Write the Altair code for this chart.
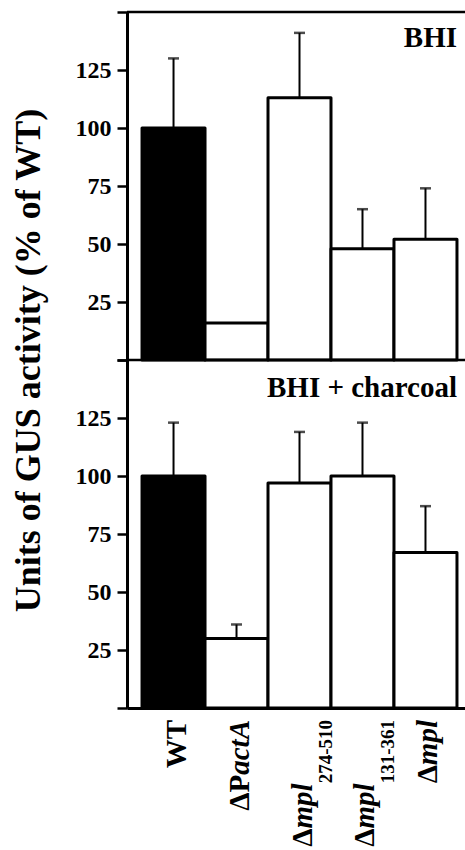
import altair as alt
import pandas as pd

# ---- data ----
strains = ["WT", "ΔPactA", "Δmpl274-510", "Δmpl131-361", "Δmpl"]
label_upright = ["WT", "ΔP", "Δ", "Δ", "Δ"]
label_italic = ["", "actA", "mpl", "mpl", "mpl"]
label_sub = ["", "", "274-510", "131-361", ""]

bhi_mean = [100, 16, 113, 48, 52]
bhi_sd = [30, 0, 28, 17, 22]
charcoal_mean = [100, 30, 97, 100, 67]
charcoal_sd = [23, 6, 22, 23, 20]

y_ticks = [0, 25, 50, 75, 100, 125, 150]
panel_titles = ["BHI", "BHI + charcoal"]
y_title = "Units of GUS activity (% of WT)"

df = pd.DataFrame({
    "strain": strains,
    "upright": label_upright,
    "italic": label_italic,
    "sub": label_sub,
    "bhi_mean": bhi_mean,
    "bhi_sd": bhi_sd,
    "ch_mean": charcoal_mean,
    "ch_sd": charcoal_sd,
})

# ---- layout / style ----
FONT = "Liberation Serif"
W, H = 338, 696
MAIN_SIZE, SUB_SIZE = 29, 19

# approximate advance widths (em) for Liberation Serif Bold / Bold Italic
ADV = {"W": 1.0, "T": 0.667, "P": 0.611, "Δ": 0.667, "A": 0.667,
       "a": 0.5, "c": 0.444, "t": 0.278, "m": 0.778, "p": 0.5, "l": 0.278,
       "-": 0.333}


def text_w(s, size):
    return sum(ADV.get(ch, 0.5) for ch in s) * size


X = alt.X("strain:N", sort=strains,
          scale=alt.Scale(paddingInner=0, paddingOuter=0.183, align=0.652),
          axis=alt.Axis(title=None, labels=False, ticks=False, domain=True,
                        domainColor="black", domainWidth=3))


def y_axis(title):
    kw = dict(orient="left", values=y_ticks,
              labelExpr="datum.value == 0 || datum.value == 150 ? '' : datum.label",
              tickSize=10, tickWidth=2.5, tickColor="black",
              domainColor="black", domainWidth=3,
              labelFont=FONT, labelFontSize=24, labelFontWeight="bold",
              labelColor="black", labelPadding=6, grid=False)
    if title:
        kw.update(title=title, titleFont=FONT, titleFontSize=36,
                  titleFontWeight="bold", titleColor="black",
                  titleAngle=270, titleAlign="center",
                  titleBaseline="alphabetic", titleX=-88, titleY=H / 2)
    else:
        kw.update(title=None)
    return alt.Axis(**kw)


def panel(mean_col, sd_col, domain, title_text, title_y, axis, extra_rules):
    base = alt.Chart(df)
    ysc = alt.Scale(domain=domain, nice=False, zero=False)
    bars = base.mark_bar(stroke="black", strokeWidth=3, strokeJoin="round").encode(
        x=X,
        y=alt.Y(f"{mean_col}:Q", scale=ysc, axis=axis),
        y2=alt.datum(0),
        fill=alt.condition(alt.datum.strain == "WT", alt.value("black"), alt.value("white")),
    )
    err_base = base.transform_filter(f"datum.{sd_col} > 0").transform_calculate(
        top=f"datum.{mean_col} + datum.{sd_col}")
    whisk = err_base.mark_rule(color="black", strokeWidth=2).encode(
        x=X, y=alt.Y(f"{mean_col}:Q", axis=axis), y2="top:Q")
    cap = err_base.mark_tick(color="black", thickness=2.5, size=11).encode(
        x=X, y=alt.Y("top:Q", axis=axis))
    one = alt.Chart(pd.DataFrame({"t": [title_text]}))
    rules = [one.mark_rule(color="black", strokeWidth=2.5).encode(
        y=alt.YDatum(v, axis=axis)) for v in extra_rules]
    label = one.mark_text(font=FONT, fontSize=29, fontWeight="bold", color="black",
                          align="right", baseline="alphabetic").encode(
        text="t:N", x=alt.value(W - 8), y=alt.value(title_y))
    return alt.layer(bars, whisk, cap, *rules, label)


top = panel("bhi_mean", "bhi_sd", [-150, 150], panel_titles[0], 35,
            y_axis(None), [150, 0])
bottom = panel("ch_mean", "ch_sd", [0, 300], panel_titles[1], 385,
               y_axis(y_title), [])

# ---- x-axis labels built from upright / italic / subscript pieces ----
label_layers = []
for i, s in enumerate(strains):
    pieces = [("upright", label_upright[i], "normal", MAIN_SIZE, 12),
              ("italic", label_italic[i], "italic", MAIN_SIZE, 12),
              ("sub", label_sub[i], "normal", SUB_SIZE, 32)]
    pieces = [p for p in pieces if p[1]]
    offset = 0.0
    for col, txt, style, size, dy in reversed(pieces):
        label_layers.append(
            alt.Chart(df).transform_filter(alt.datum.strain == s).mark_text(
                font=FONT, fontSize=size, fontWeight="bold", fontStyle=style,
                color="black", angle=270, align="right", baseline="alphabetic",
                dx=-offset, dy=dy).encode(
                x=X, text=f"{col}:N", y=alt.value(H + 12)))
        offset += text_w(txt, size)

bottom = alt.layer(bottom, *label_layers)

chart = alt.layer(top, bottom).resolve_scale(y="independent").properties(
    width=W, height=H,
    autosize=alt.AutoSizeParams(type="none"),
    padding={"left": 127, "top": 12, "right": 0, "bottom": 142},
    background="white",
).configure_view(stroke=None).configure_axis(grid=False)

chart.save("out.html", embed_options={"renderer": "svg", "actions": False})
